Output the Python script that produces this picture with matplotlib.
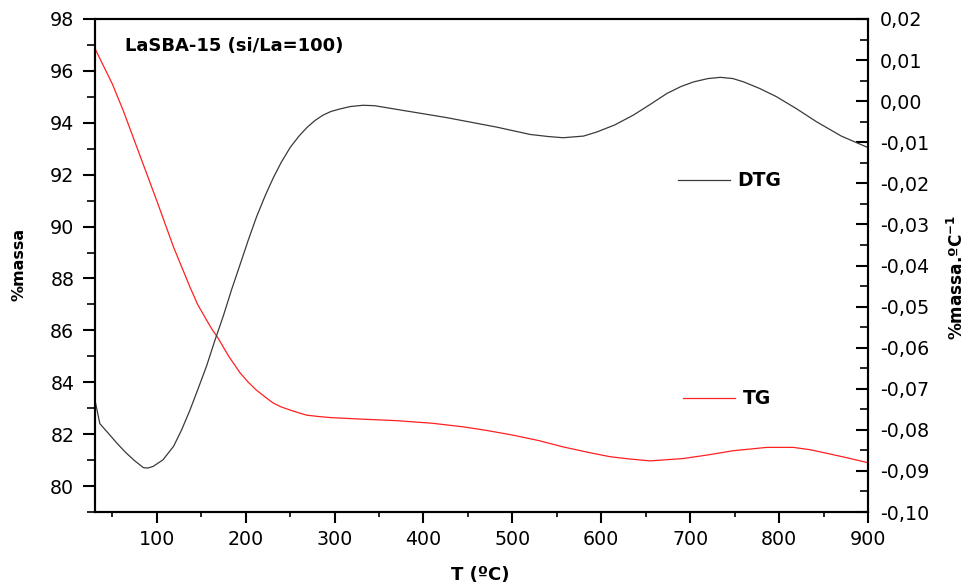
import matplotlib
matplotlib.use("Agg")
import matplotlib.pyplot as plt
from matplotlib.ticker import MultipleLocator, FuncFormatter

# ---- data ----
t_tg = [30, 50, 62, 81, 100, 119, 137, 146, 156, 162, 169, 181, 194, 203, 212,
        222, 231, 240, 250, 260, 269, 282, 295, 306, 330, 370, 410, 445, 470,
        501, 530, 557, 585, 610, 630, 655, 692, 720, 748, 786, 816, 835, 854,
        875, 900]
tg = [96.9, 95.5, 94.5, 92.75, 91.0, 89.2, 87.7, 87.0, 86.4, 86.05, 85.7, 85.0,
      84.35, 84.0, 83.7, 83.43, 83.2, 83.05, 82.93, 82.82, 82.73, 82.68, 82.64,
      82.62, 82.58, 82.52, 82.42, 82.28, 82.15, 81.96, 81.75, 81.51, 81.3,
      81.13, 81.05, 80.97, 81.06, 81.2, 81.36, 81.49, 81.49, 81.4, 81.26,
      81.1, 80.9]

t_dtg = [30, 36, 47, 55, 65, 75, 85, 90, 96, 107, 119, 128, 137, 146, 156, 165,
         175, 184, 194, 203, 212, 222, 231, 240, 250, 260, 269, 278, 287, 296,
         306, 318, 332, 345, 370, 426, 482, 520, 540, 557, 580, 595, 615, 636,
         655, 674, 690, 704, 720, 734, 748, 760, 778, 797, 820, 842, 870, 900]
dtg = [-0.0722, -0.0785, -0.0812, -0.0832, -0.0855, -0.0875, -0.0892, -0.0893,
       -0.0889, -0.0873, -0.0840, -0.0800, -0.0754, -0.0703, -0.0645, -0.0585,
       -0.0522, -0.0460, -0.0396, -0.0338, -0.0283, -0.0230, -0.0187, -0.0149,
       -0.0113, -0.0085, -0.0064, -0.0047, -0.0034, -0.0025, -0.0019, -0.0013,
       -0.0010, -0.0011, -0.0020, -0.0040, -0.0063, -0.0081, -0.0086, -0.0089,
       -0.0085, -0.0075, -0.0058, -0.0034, -0.0008, 0.0019, 0.0036, 0.0047,
       0.0055, 0.0058, 0.0055, 0.0047, 0.0031, 0.0011, -0.0019, -0.0050,
       -0.0085, -0.0113]

left_ticks = [80, 82, 84, 86, 88, 90, 92, 94, 96, 98]
right_ticks = [-0.10, -0.09, -0.08, -0.07, -0.06, -0.05, -0.04, -0.03, -0.02,
               -0.01, 0.00, 0.01, 0.02]
x_ticks = [100, 200, 300, 400, 500, 600, 700, 800, 900]

title_text = "LaSBA-15 (si/La=100)"

plt.rcParams['font.family'] = ['DejaVu Sans']

W, H = 971, 588
fig = plt.figure(figsize=(W / 100, H / 100), dpi=100)
L, R, T, B = 94.5, 868, 19, 512
ax = fig.add_axes([L / W, 1 - B / H, (R - L) / W, (B - T) / H])
ax2 = ax.twinx()

tg_line, = ax.plot(t_tg, tg, color='#ff2020', lw=0.9)
dtg_line, = ax2.plot(t_dtg, dtg, color='#3a3a3a', lw=0.9)

ax.set_xlim(30, 900)
ax.set_ylim(79, 98)
ax2.set_ylim(-0.10, 0.02)

ax.set_xticks(x_ticks)
ax.xaxis.set_minor_locator(MultipleLocator(50))
ax.set_yticks(left_ticks)
ax.yaxis.set_minor_locator(MultipleLocator(1))
ax2.set_yticks(right_ticks)
ax2.yaxis.set_minor_locator(MultipleLocator(0.005))


def comma_fmt(v, pos):
    if abs(v) < 1e-9:
        v = 0.0
    return ("%.2f" % v).replace('.', ',')


ax2.yaxis.set_major_formatter(FuncFormatter(comma_fmt))

tick_fs = 13.7
ax.tick_params(axis='y', which='major', direction='out', length=9, width=1.5,
               pad=5.5, labelsize=tick_fs, right=False)
ax.tick_params(axis='y', which='minor', direction='out', length=5.5, width=1.2,
               right=False)
ax.tick_params(axis='x', which='major', direction='out', length=8, width=1.5,
               pad=5, labelsize=tick_fs, top=False)
ax.tick_params(axis='x', which='minor', direction='out', length=3.8, width=1.2,
               top=False)
ax2.tick_params(axis='y', which='major', direction='in', length=8.6, width=1.5,
                pad=8.6, labelsize=tick_fs)
ax2.tick_params(axis='y', which='minor', direction='in', length=5.8, width=1.2)

for a in (ax, ax2):
    for s in a.spines.values():
        s.set_linewidth(1.5)

ax.set_xlabel("T (ºC)", fontsize=13, fontweight='bold', va='center')
ax.xaxis.set_label_coords((480 - L) / (R - L), (B - 575) / (B - T))
ax.set_ylabel("%massa", fontsize=11.5, fontweight='bold', va='center')
ax.yaxis.set_label_coords((19.5 - L) / (R - L), (B - 264) / (B - T))
ax2.set_ylabel(r"%massa.ºC$^{\mathbf{-1}}$", fontsize=12.2, fontweight='bold',
               va='center', rotation=90)
ax2.yaxis.set_label_coords((957 - L) / (R - L), (B - 278) / (B - T))

ax.text((125 - L) / (R - L), (B - 46) / (B - T), title_text, transform=ax.transAxes,
        fontsize=13, fontweight='bold', ha='left', va='center')

leg_fs = 13.5
leg1 = fig.legend([dtg_line], ["DTG"], loc='center left',
                  bbox_to_anchor=(678 / W, 1 - 181 / H), bbox_transform=fig.transFigure,
                  frameon=False, borderpad=0, borderaxespad=0, handlelength=2.75,
                  handletextpad=0.4, prop={'size': leg_fs, 'weight': 'bold'})
leg2 = fig.legend([tg_line], ["TG"], loc='center left',
                  bbox_to_anchor=(683 / W, 1 - 399 / H), bbox_transform=fig.transFigure,
                  frameon=False, borderpad=0, borderaxespad=0, handlelength=2.75,
                  handletextpad=0.45, prop={'size': leg_fs, 'weight': 'bold'})

fig.savefig("out.png", dpi=100)
